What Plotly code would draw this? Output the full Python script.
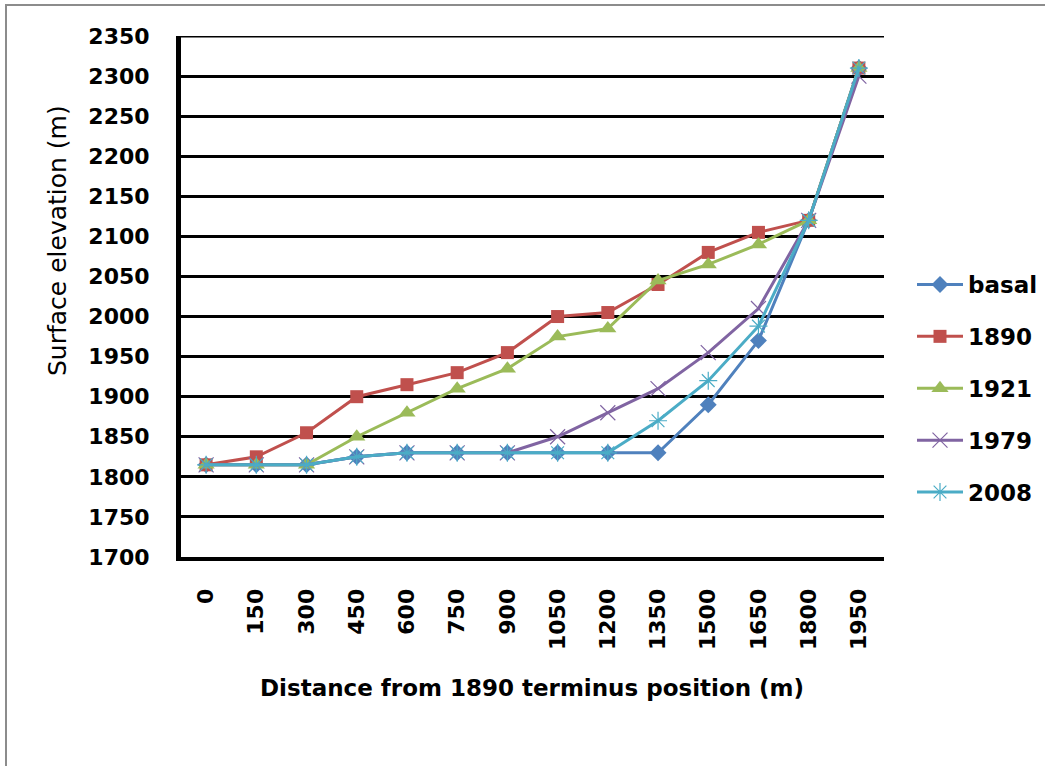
import plotly.graph_objects as go

distance = [0, 150, 300, 450, 600, 750, 900, 1050, 1200, 1350, 1500, 1650, 1800, 1950]
basal = [1815, 1815, 1815, 1825, 1830, 1830, 1830, 1830, 1830, 1830, 1890, 1970, 2120, 2310]
y1890 = [1815, 1825, 1855, 1900, 1915, 1930, 1955, 2000, 2005, 2040, 2080, 2105, 2120, 2310]
y1921 = [1815, 1815, 1815, 1850, 1880, 1910, 1935, 1975, 1985, 2045, 2065, 2090, 2120, 2310]
y1979 = [1815, 1815, 1815, 1825, 1830, 1830, 1830, 1850, 1880, 1910, 1955, 2010, 2120, 2300]
y2008 = [1815, 1815, 1815, 1825, 1830, 1830, 1830, 1830, 1830, 1870, 1920, 1988, 2120, 2310]
y_ticks = list(range(1700, 2351, 50))

series = [
    ("basal", basal, "#4F81BD", dict(symbol="diamond", size=13)),
    ("1890", y1890, "#C0504D", dict(symbol="square", size=13)),
    ("1921", y1921, "#9BBB59", dict(symbol="triangle-up", size=15)),
    ("1979", y1979, "#8064A2", dict(symbol="x-thin-open", size=15, line=dict(width=1.2))),
    ("2008", y2008, "#4BACC6", dict(symbol="asterisk-open", size=15, line=dict(width=1.2))),
]

W, H = 1045, 766
L, R, T, B = 181, 884, 36, 557

fig = go.Figure()
for name, vals, col, mk in series:
    m = dict(color=col, **mk)
    if "line" in m:
        m["line"]["color"] = col
    fig.add_trace(go.Scatter(x=distance, y=vals, name=name, legendgroup=name,
                             mode="lines+markers", line=dict(color=col, width=3),
                             marker=m))

font_family = "DejaVu Sans"

def px_x(p):
    return (p - L) / (R - L)

def px_y(p):
    return (B - p) / (B - T)

fig.update_layout(
    width=W, height=H,
    margin=dict(l=L, r=W - R, t=T, b=H - B, autoexpand=False),
    paper_bgcolor="white", plot_bgcolor="white",
    font=dict(family=font_family, color="black"),
    showlegend=True,
    legend=dict(x=px_x(912), y=px_y(388.5), xanchor="left", yanchor="middle",
                font=dict(size=23, family=font_family, weight="bold"),
                itemwidth=46, tracegroupgap=19, bgcolor="rgba(0,0,0,0)"),
    xaxis=dict(range=[-75, 2025], tickmode="array", tickvals=distance,
               ticktext=[str(d) for d in distance], tickangle=-90,
               showgrid=False, zeroline=False, showline=True, linecolor="black",
               linewidth=4, ticks="", ticklabelstandoff=19,
               tickfont=dict(size=22, family=font_family, weight="bold")),
    yaxis=dict(range=[1700, 2350], tickmode="array", tickvals=y_ticks,
               showgrid=True, gridcolor="black", gridwidth=3, zeroline=False,
               showline=True, linecolor="black", linewidth=5, ticks="",
               ticklabelstandoff=22,
               tickfont=dict(size=22, family=font_family, weight="bold")),
    annotations=[
        dict(text="Surface elevation (m)", xref="paper", yref="paper",
             x=px_x(57), y=px_y(240), textangle=-90, showarrow=False,
             xanchor="center", yanchor="middle",
             font=dict(size=25, family=font_family)),
        dict(text="<b>Distance from 1890 terminus position (m)</b>", xref="paper",
             yref="paper", x=px_x(532), y=px_y(688), showarrow=False,
             xanchor="center", yanchor="middle",
             font=dict(size=23, family=font_family)),
    ],
    shapes=[
        dict(type="line", xref="paper", yref="y", x0=0, x1=1,
             y0=y_ticks[-1], y1=y_ticks[-1], line=dict(color="black", width=3),
             layer="below"),
        dict(type="line", xref="paper", yref="paper", x0=px_x(6), x1=px_x(6),
             y0=px_y(5), y1=px_y(766), line=dict(color="#8c8c8c", width=2)),
        dict(type="line", xref="paper", yref="paper", x0=px_x(5), x1=px_x(1045),
             y0=px_y(5), y1=px_y(5), line=dict(color="#8c8c8c", width=2)),
    ],
)

fig.write_html("out.html")
